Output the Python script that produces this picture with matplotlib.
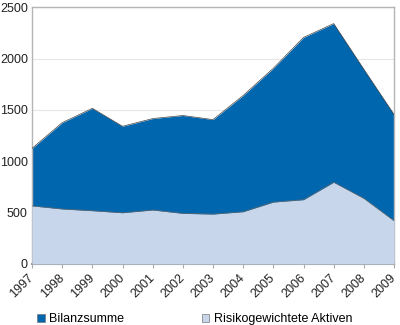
import matplotlib
matplotlib.use("Agg")
import matplotlib.pyplot as plt
from matplotlib.patches import Patch

plt.rcParams['font.family'] = ['Liberation Sans', 'DejaVu Sans']

years = ['1997', '1998', '1999', '2000', '2001', '2002', '2003',
         '2004', '2005', '2006', '2007', '2008', '2009']
bilanzsumme = [1125, 1375, 1515, 1340, 1415, 1445, 1405,
               1640, 1905, 2205, 2340, 1895, 1455]
risiko_aktiven = [565, 535, 518, 498, 525, 492, 485,
                  508, 602, 625, 795, 638, 420]

dark_blue = '#0067AF'
light_blue = '#C8D6EB'

fig = plt.figure(figsize=(4.0, 3.25), dpi=100)
ax = fig.add_axes([0.08, 0.188, 0.905, 0.79])

x = list(range(len(years)))
ax.fill_between(x, 0, bilanzsumme, color=dark_blue, lw=0, zorder=2)
ax.plot(x, bilanzsumme, color='#444444', lw=0.5, zorder=3)
ax.fill_between(x, 0, risiko_aktiven, color=light_blue, lw=0, zorder=4)
ax.plot(x, risiko_aktiven, color='#666666', lw=0.5, zorder=5)

ax.set_xlim(0, len(years) - 1)
ax.set_ylim(0, 2500)
ax.set_yticks([0, 500, 1000, 1500, 2000, 2500])
ax.set_xticks(x)
ax.set_xticklabels(years, rotation=45, ha='right', va='center',
                   rotation_mode='anchor')
ax.tick_params(axis='both', labelsize=9, colors='#222222', length=3,
               color='#aaaaaa')
ax.tick_params(axis='x', pad=6)
ax.tick_params(axis='y', length=0, pad=3)
ax.grid(axis='y', color='#e6e6e6', lw=0.8, zorder=0)
ax.set_axisbelow(True)
for side in ['top', 'right', 'left']:
    ax.spines[side].set_color('#b5b5b5')
    ax.spines[side].set_linewidth(1.0)
ax.spines['bottom'].set_color('#999999')
ax.spines['bottom'].set_linewidth(1.5)

handles = [Patch(facecolor=dark_blue, edgecolor='#777777', lw=0.5),
           Patch(facecolor=light_blue, edgecolor='#777777', lw=0.5)]
fig.legend(handles, ['Bilanzsumme', 'Risikogewichtete Aktiven'],
           loc='lower left', bbox_to_anchor=(0.065, -0.035), ncol=2,
           frameon=False, fontsize=9, handlelength=0.6, handleheight=0.6,
           handletextpad=0.35, columnspacing=6.2)

fig.savefig('out.png', dpi=100)
